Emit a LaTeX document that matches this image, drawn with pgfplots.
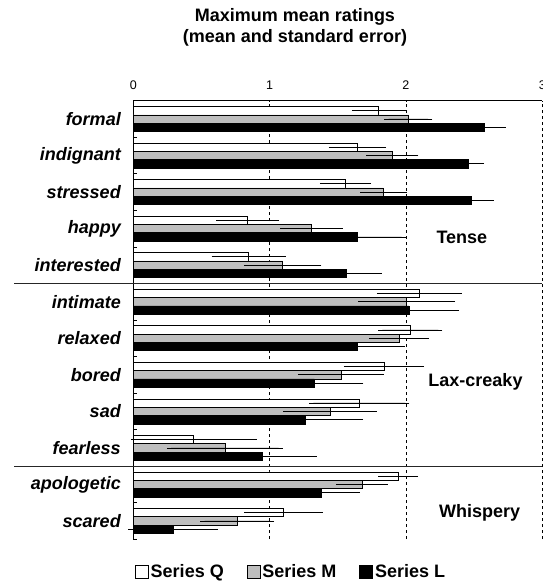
\documentclass[border=0pt]{standalone}
\usepackage{pgfplots}
\pgfplotsset{compat=1.18}
\usepackage{pgfplotstable}
\usepackage{fontspec}
\setmainfont{Liberation Sans}
\definecolor{mgray}{RGB}{190,190,190}

% y: 11=formal ... 0=scared
\pgfplotstableread{
y v e
11 1.800 0.166
10 1.643 0.180
9 1.557 0.157
8 0.839 0.200
7 0.846 0.240
6 2.098 0.280
5 2.032 0.205
4 1.839 0.263
3 1.658 0.337
2 0.443 0.430
1 1.944 0.115
0 1.100 0.257
}\dataQ
\pgfplotstableread{
y v e
11 2.017 0.145
10 1.900 0.160
9 1.834 0.140
8 1.308 0.198
7 1.095 0.254
6 2.005 0.325
5 1.949 0.187
4 1.523 0.285
3 1.443 0.311
2 0.672 0.394
1 1.677 0.160
0 0.763 0.240
}\dataM
\pgfplotstableread{
y v e
11 2.572 0.130
10 2.460 0.083
9 2.480 0.134
8 1.645 0.323
7 1.565 0.225
6 2.022 0.337
5 1.645 0.318
4 1.328 0.328
3 1.259 0.396
2 0.949 0.364
1 1.377 0.254
0 0.293 0.298
}\dataL

\begin{document}
\begin{tikzpicture}
\node[font=\fontsize{18}{20}\selectfont\bfseries] at (295pt,-16.6pt) {Maximum mean ratings};
\node[font=\fontsize{18}{20}\selectfont\bfseries] at (295pt,-38pt) {(mean and standard error)};
\begin{axis}[
  at={(133.3pt,-100.7pt)}, anchor=north west,
  scale only axis, width=409pt, height=438.5pt,
  xbar, bar width=0.228,
  xmin=0, xmax=3, ymin=-0.5, ymax=11.5,
  axis x line=top, axis y line=left,
  axis line style={-, line width=0.8pt, black},
  xtick={0,1,2,3},
  major tick length=0pt,
  minor tick length=4pt,
  tick align=inside,
  minor ytick={-0.5,0.5,...,11.5},
  minor tick style={black, line width=0.6pt},
  ytick={0,...,11},
  yticklabels={scared,apologetic,fearless,sad,bored,relaxed,intimate,interested,happy,stressed,indignant,formal},
  yticklabel style={font=\fontsize{18}{20}\selectfont\bfseries\itshape, xshift=-9pt},
  xticklabel style={font=\fontsize{12.5}{13}\selectfont, yshift=8pt},
  /pgf/number format/assume math mode=true,
  xmajorgrids, grid style={dashed, black, line width=0.6pt},
  clip=false,
  legend columns=3,
  legend image code/.code={\draw[#1,/tikz/.cd] (0pt,-6.5pt) rectangle (13pt,6.5pt);},
  legend style={at={(axis description cs:0.004,-0.075)}, anchor=west, draw=none, fill=none,
    inner sep=0pt, font=\fontsize{18}{20}\selectfont\bfseries,
    /tikz/every even column/.append style={column sep=21pt}},
]
\addplot[draw=black, fill=white, line width=0.6pt, bar shift=0.228,
  error bars/.cd, x dir=both, x explicit,
  error bar style={black, line width=0.7pt},
  error mark options={black, mark size=4.2pt, line width=0.7pt}]
  table[x=v, y=y, x error=e] {\dataQ};
\addplot[draw=black, fill=mgray, line width=0.6pt, bar shift=0,
  error bars/.cd, x dir=both, x explicit,
  error bar style={black, line width=0.7pt},
  error mark options={black, mark size=4.2pt, line width=0.7pt}]
  table[x=v, y=y, x error=e] {\dataM};
\addplot[draw=black, fill=black, line width=0.6pt, bar shift=-0.228,
  error bars/.cd, x dir=both, x explicit,
  error bar style={black, line width=0.7pt},
  error mark options={black, mark size=4.2pt, line width=0.7pt}]
  table[x=v, y=y, x error=e] {\dataL};
\legend{Series Q, Series M, Series L}
\draw[line width=0.8pt, black!85] (axis cs:-0.875,6.5) -- (axis cs:3,6.5);
\draw[line width=0.8pt, black!85] (axis cs:-0.875,1.5) -- (axis cs:3,1.5);
\node[font=\fontsize{18}{20}\selectfont\bfseries] at (axis cs:2.41,7.76) {Tense};
\node[font=\fontsize{18}{20}\selectfont\bfseries] at (axis cs:2.51,3.82) {Lax-creaky};
\node[font=\fontsize{18}{20}\selectfont\bfseries] at (axis cs:2.54,0.22) {Whispery};
\end{axis}
\pgfresetboundingbox
\path[use as bounding box] (0,0) rectangle (543pt,-582pt);
\end{tikzpicture}
\end{document}
